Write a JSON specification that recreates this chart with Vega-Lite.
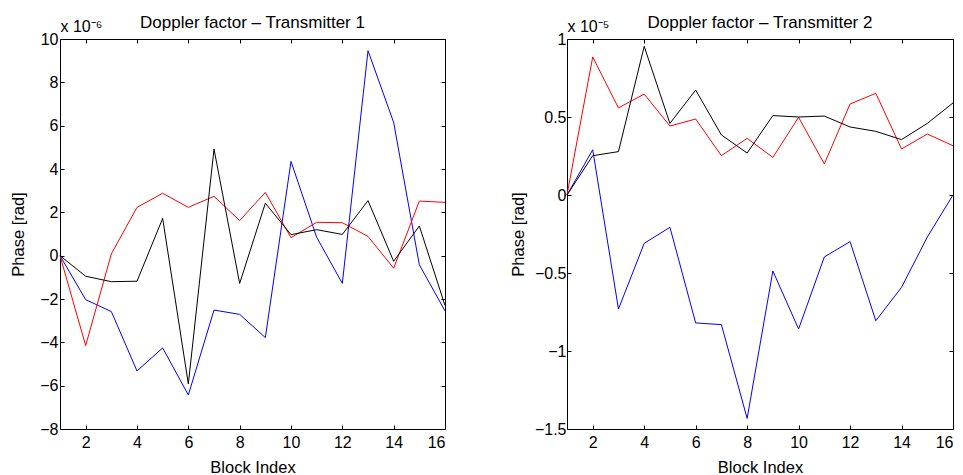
{
  "$schema": "https://vega.github.io/schema/vega-lite/v6.json",
  "padding": {"left": 10, "top": 14, "right": 0, "bottom": 0},
  "background": "white",
  "bounds": "flush",
  "spacing": 122,
  "config": {
    "font": "Liberation Sans",
    "view": {"stroke": null},
    "axis": {
      "domainColor": "black", "tickColor": "black", "labelColor": "black", "titleColor": "black",
      "labelFont": "Liberation Sans", "titleFont": "Liberation Sans",
      "labelFontSize": 16, "titleFontSize": 16.5, "titleFontWeight": "normal",
      "grid": false, "tickSize": -4, "domainWidth": 1, "tickWidth": 1, "format": "~r"
    },
    "title": {"font": "Liberation Sans", "fontSize": 17, "fontWeight": "normal", "color": "black"}
  },
  "datasets": {
    "d": [
      {"tx":1,"s":"b","block":1,"phase":0},{"tx":1,"s":"b","block":2,"phase":-2.03},{"tx":1,"s":"b","block":3,"phase":-2.58},{"tx":1,"s":"b","block":4,"phase":-5.32},{"tx":1,"s":"b","block":5,"phase":-4.26},{"tx":1,"s":"b","block":6,"phase":-6.43},{"tx":1,"s":"b","block":7,"phase":-2.51},{"tx":1,"s":"b","block":8,"phase":-2.71},{"tx":1,"s":"b","block":9,"phase":-3.78},{"tx":1,"s":"b","block":10,"phase":4.35},{"tx":1,"s":"b","block":11,"phase":0.85},{"tx":1,"s":"b","block":12,"phase":-1.28},{"tx":1,"s":"b","block":13,"phase":9.46},{"tx":1,"s":"b","block":14,"phase":6.15},{"tx":1,"s":"b","block":15,"phase":-0.42},{"tx":1,"s":"b","block":16,"phase":-2.55},
      {"tx":1,"s":"r","block":1,"phase":0},{"tx":1,"s":"r","block":2,"phase":-4.15},{"tx":1,"s":"r","block":3,"phase":0.08},{"tx":1,"s":"r","block":4,"phase":2.23},{"tx":1,"s":"r","block":5,"phase":2.88},{"tx":1,"s":"r","block":6,"phase":2.23},{"tx":1,"s":"r","block":7,"phase":2.74},{"tx":1,"s":"r","block":8,"phase":1.62},{"tx":1,"s":"r","block":9,"phase":2.92},{"tx":1,"s":"r","block":10,"phase":0.83},{"tx":1,"s":"r","block":11,"phase":1.54},{"tx":1,"s":"r","block":12,"phase":1.52},{"tx":1,"s":"r","block":13,"phase":0.89},{"tx":1,"s":"r","block":14,"phase":-0.58},{"tx":1,"s":"r","block":15,"phase":2.52},{"tx":1,"s":"r","block":16,"phase":2.46},
      {"tx":1,"s":"k","block":1,"phase":0},{"tx":1,"s":"k","block":2,"phase":-0.95},{"tx":1,"s":"k","block":3,"phase":-1.2},{"tx":1,"s":"k","block":4,"phase":-1.18},{"tx":1,"s":"k","block":5,"phase":1.72},{"tx":1,"s":"k","block":6,"phase":-5.92},{"tx":1,"s":"k","block":7,"phase":4.92},{"tx":1,"s":"k","block":8,"phase":-1.28},{"tx":1,"s":"k","block":9,"phase":2.42},{"tx":1,"s":"k","block":10,"phase":0.97},{"tx":1,"s":"k","block":11,"phase":1.2},{"tx":1,"s":"k","block":12,"phase":0.98},{"tx":1,"s":"k","block":13,"phase":2.54},{"tx":1,"s":"k","block":14,"phase":-0.26},{"tx":1,"s":"k","block":15,"phase":1.37},{"tx":1,"s":"k","block":16,"phase":-2.3},
      {"tx":2,"s":"b","block":1,"phase":0},{"tx":2,"s":"b","block":2,"phase":0.29},{"tx":2,"s":"b","block":3,"phase":-0.731},{"tx":2,"s":"b","block":4,"phase":-0.31},{"tx":2,"s":"b","block":5,"phase":-0.207},{"tx":2,"s":"b","block":6,"phase":-0.82},{"tx":2,"s":"b","block":7,"phase":-0.831},{"tx":2,"s":"b","block":8,"phase":-1.432},{"tx":2,"s":"b","block":9,"phase":-0.487},{"tx":2,"s":"b","block":10,"phase":-0.859},{"tx":2,"s":"b","block":11,"phase":-0.397},{"tx":2,"s":"b","block":12,"phase":-0.299},{"tx":2,"s":"b","block":13,"phase":-0.806},{"tx":2,"s":"b","block":14,"phase":-0.592},{"tx":2,"s":"b","block":15,"phase":-0.27},{"tx":2,"s":"b","block":16,"phase":0},
      {"tx":2,"s":"r","block":1,"phase":0},{"tx":2,"s":"r","block":2,"phase":0.885},{"tx":2,"s":"r","block":3,"phase":0.558},{"tx":2,"s":"r","block":4,"phase":0.647},{"tx":2,"s":"r","block":5,"phase":0.442},{"tx":2,"s":"r","block":6,"phase":0.487},{"tx":2,"s":"r","block":7,"phase":0.252},{"tx":2,"s":"r","block":8,"phase":0.363},{"tx":2,"s":"r","block":9,"phase":0.241},{"tx":2,"s":"r","block":10,"phase":0.498},{"tx":2,"s":"r","block":11,"phase":0.199},{"tx":2,"s":"r","block":12,"phase":0.583},{"tx":2,"s":"r","block":13,"phase":0.652},{"tx":2,"s":"r","block":14,"phase":0.295},{"tx":2,"s":"r","block":15,"phase":0.391},{"tx":2,"s":"r","block":16,"phase":0.316},
      {"tx":2,"s":"k","block":1,"phase":0},{"tx":2,"s":"k","block":2,"phase":0.252},{"tx":2,"s":"k","block":3,"phase":0.278},{"tx":2,"s":"k","block":4,"phase":0.953},{"tx":2,"s":"k","block":5,"phase":0.459},{"tx":2,"s":"k","block":6,"phase":0.673},{"tx":2,"s":"k","block":7,"phase":0.385},{"tx":2,"s":"k","block":8,"phase":0.269},{"tx":2,"s":"k","block":9,"phase":0.509},{"tx":2,"s":"k","block":10,"phase":0.5},{"tx":2,"s":"k","block":11,"phase":0.506},{"tx":2,"s":"k","block":12,"phase":0.436},{"tx":2,"s":"k","block":13,"phase":0.408},{"tx":2,"s":"k","block":14,"phase":0.355},{"tx":2,"s":"k","block":15,"phase":0.459},{"tx":2,"s":"k","block":16,"phase":0.59}
    ]
  },
  "hconcat": [
    {
      "width": 385, "height": 390,
      "title": {"text": "Doppler factor – Transmitter 1", "offset": -14},
      "data": {"name": "d"},
      "transform": [{"filter": "datum.tx == 1"}],
      "layer": [
        {
          "mark": {"type": "line", "strokeWidth": 1},
          "encoding": {
            "x": {"field": "block", "type": "quantitative", "scale": {"domain": [1, 16], "nice": false, "zero": false},
                  "axis": {"orient": "bottom", "values": [2,4,6,8,10,12,14,16], "title": "Block Index", "labelPadding": 9, "titlePadding": 9}},
            "y": {"field": "phase", "type": "quantitative", "scale": {"domain": [-8, 10], "nice": false, "zero": false},
                  "axis": {"orient": "left", "values": [-8,-6,-4,-2,0,2,4,6,8,10], "title": "Phase [rad]", "labelPadding": 6, "titlePadding": 13}},
            "color": {"field": "s", "type": "nominal", "scale": {"domain": ["b","r","k"], "range": ["#0000ff","#ff0000","#000000"]}, "legend": null}
          }
        },
        {
          "mark": {"type": "line", "opacity": 0},
          "encoding": {
            "x": {"field": "block", "type": "quantitative",
                  "axis": {"orient": "top", "values": [2,4,6,8,10,12,14,16], "labels": false, "title": "x 10⁻⁶", "titleX": 0, "titleY": -8, "titleAlign": "left", "titleBaseline": "alphabetic", "titleAngle": 0, "titleFontSize": 16}},
            "y": {"field": "phase", "type": "quantitative",
                  "axis": {"orient": "right", "values": [-8,-6,-4,-2,0,2,4,6,8,10], "labels": false, "title": null}},
            "detail": {"field": "s"}
          }
        }
      ],
      "resolve": {"axis": {"x": "independent", "y": "independent"}}
    },
    {
      "width": 386, "height": 390,
      "title": {"text": "Doppler factor – Transmitter 2", "offset": -14},
      "data": {"name": "d"},
      "transform": [{"filter": "datum.tx == 2"}],
      "layer": [
        {
          "mark": {"type": "line", "strokeWidth": 1},
          "encoding": {
            "x": {"field": "block", "type": "quantitative", "scale": {"domain": [1, 16], "nice": false, "zero": false},
                  "axis": {"orient": "bottom", "values": [2,4,6,8,10,12,14,16], "title": "Block Index", "labelPadding": 9, "titlePadding": 9}},
            "y": {"field": "phase", "type": "quantitative", "scale": {"domain": [-1.5, 1], "nice": false, "zero": false},
                  "axis": {"orient": "left", "values": [-1.5,-1,-0.5,0,0.5,1], "title": "Phase [rad]", "labelPadding": 5, "titlePadding": 8}},
            "color": {"field": "s", "type": "nominal", "scale": {"domain": ["b","r","k"], "range": ["#0000ff","#ff0000","#000000"]}, "legend": null}
          }
        },
        {
          "mark": {"type": "line", "opacity": 0},
          "encoding": {
            "x": {"field": "block", "type": "quantitative",
                  "axis": {"orient": "top", "values": [2,4,6,8,10,12,14,16], "labels": false, "title": "x 10⁻⁵", "titleX": 0, "titleY": -8, "titleAlign": "left", "titleBaseline": "alphabetic", "titleAngle": 0, "titleFontSize": 16}},
            "y": {"field": "phase", "type": "quantitative",
                  "axis": {"orient": "right", "values": [-1.5,-1,-0.5,0,0.5,1], "labels": false, "title": null}},
            "detail": {"field": "s"}
          }
        }
      ],
      "resolve": {"axis": {"x": "independent", "y": "independent"}}
    }
  ]
}
